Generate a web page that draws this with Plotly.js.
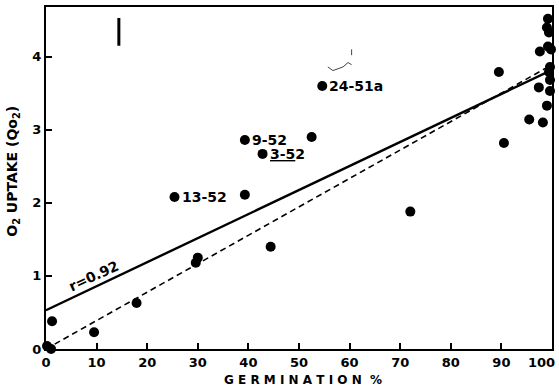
<!DOCTYPE html>
<html>
<head>
<meta charset="utf-8">
<script src="https://cdn.plot.ly/plotly-3.0.1.min.js"></script>
<style>html,body{margin:0;padding:0;background:#fff;}#chart{width:559px;height:389px;}</style>
</head>
<body>
<div id="chart"></div>
<script>
// Data
var germination = [0.2, 1.0, 1.2, 9.5, 17.9, 29.6, 30.0, 44.4, 72.0, 25.4, 39.3, 39.3, 42.8, 52.5, 54.6, 89.5, 90.5, 95.5, 98.2, 99.2, 99.0, 99.4, 97.6, 99.2, 99.8, 99.6, 99.4, 99.6, 97.4, 99.6, 99.0];
var o2Uptake    = [0.04, 0.0, 0.38, 0.23, 0.63, 1.18, 1.25, 1.40, 1.88, 2.08, 2.11, 2.86, 2.67, 2.90, 3.60, 3.79, 2.82, 3.14, 3.10, 4.52, 4.40, 4.33, 4.07, 4.14, 4.10, 3.86, 3.79, 3.68, 3.58, 3.53, 3.33];

var labelNames = ["13-52", "9-52", "<u>3-5</u>2", "24-51a"];
var labelX     = [25.4, 39.3, 42.8, 54.6];
var labelY     = [2.08, 2.86, 2.67, 3.60];

var regX      = [0, 100];
var regSolidY = [0.53, 3.82];
var regDashY  = [0.0, 3.89];

var xTicks = [0, 10, 20, 30, 40, 50, 60, 70, 80, 90, 100];
var xTickText = ["0", "10", "20", "30", "40", "50", "60", "70", "80", "90", "100"];
var yTicks = [0, 1, 2, 3, 4];
var yTickText = ["0", "1", "2", "3", "4"];

var FONT = "DejaVu Sans";

var traces = [
  {x: regX, y: regDashY, mode: "lines", line: {color: "#000", width: 1.6, dash: "6px,4px"}, hoverinfo: "skip", cliponaxis: false},
  {x: regX, y: regSolidY, mode: "lines", line: {color: "#000", width: 2.4}, hoverinfo: "skip", cliponaxis: false},
  {x: germination, y: o2Uptake, mode: "markers", marker: {color: "#000", size: 10}, cliponaxis: false}
];

var annotations = [];
for (var i = 0; i < labelNames.length; i++) {
  annotations.push({x: labelX[i], y: labelY[i], xref: "x", yref: "y", text: "<b>" + labelNames[i] + "</b>",
    showarrow: false, xanchor: "left", yanchor: "middle", xshift: 5,
    font: {family: FONT, size: 14, color: "#000"}});
}
annotations.push({x: 9.4, y: 1.0, xref: "x", yref: "y", text: "<b>r=0.92</b>", textangle: -25, showarrow: false,
  font: {family: FONT, size: 14, color: "#000"}});
annotations.push({x: -0.064, y: 0.52, xref: "paper", yref: "paper", text: "<b>O<sub>2</sub> UPTAKE (Qo<sub>2</sub>)</b>",
  textangle: -90, showarrow: false, xanchor: "center", yanchor: "middle", font: {family: FONT, size: 14, color: "#000"}});
annotations.push({x: 0.508, y: -0.09, xref: "paper", yref: "paper", text: "<b>G E R M I N A T I O N  %</b>",
  showarrow: false, xanchor: "center", yanchor: "middle", font: {family: FONT, size: 12, color: "#000"}});
// last x tick label, nudged left so it stays inside the page as in the reference
annotations.push({x: xTicks[xTicks.length - 1], y: 0, xref: "x", yref: "paper", text: "<b>" + xTickText[xTickText.length - 1] + "</b>",
  showarrow: false, xanchor: "right", yanchor: "top", xshift: 5, yshift: -4, font: {family: FONT, size: 13, color: "#000"}});

function boldList(arr) { return arr.map(function (t, k) { return k === arr.length - 1 && arr === xTickText ? "" : "<b>" + t + "</b>"; }); }

var layout = {
  width: 559, height: 389,
  margin: {l: 46, r: 7, t: 7, b: 40},
  paper_bgcolor: "#fff", plot_bgcolor: "#fff",
  showlegend: false,
  font: {family: FONT, color: "#000"},
  xaxis: {range: [0, 100], tickvals: xTicks, ticktext: boldList(xTickText), ticks: "inside", ticklen: 6, tickwidth: 2,
    tickcolor: "#000", showline: true, linewidth: 2, linecolor: "#000", mirror: true, showgrid: false, zeroline: false,
    tickfont: {family: FONT, size: 13}},
  yaxis: {range: [0, 4.68], tickvals: yTicks, ticktext: boldList(yTickText), ticks: "inside", ticklen: 6, tickwidth: 2,
    tickcolor: "#000", showline: true, linewidth: 2, linecolor: "#000", mirror: true, showgrid: false, zeroline: false,
    tickfont: {family: FONT, size: 13}},
  annotations: annotations,
  shapes: [
    {type: "line", xref: "x", yref: "y", x0: 14.4, x1: 14.4, y0: 4.15, y1: 4.53, line: {color: "#000", width: 3}},
    {type: "path", xref: "x", yref: "y", path: "M 55.7 3.86 L 56.7 3.81 L 58.7 3.86 L 59.7 3.92 L 60.4 3.89", line: {color: "#444", width: 1}},
    {type: "line", xref: "x", yref: "y", x0: 60.4, x1: 60.4, y0: 4.02, y1: 4.10, line: {color: "#444", width: 1}}
  ]
};

Plotly.newPlot("chart", traces, layout, {staticPlot: true, displayModeBar: false});
</script>
</body>
</html>
